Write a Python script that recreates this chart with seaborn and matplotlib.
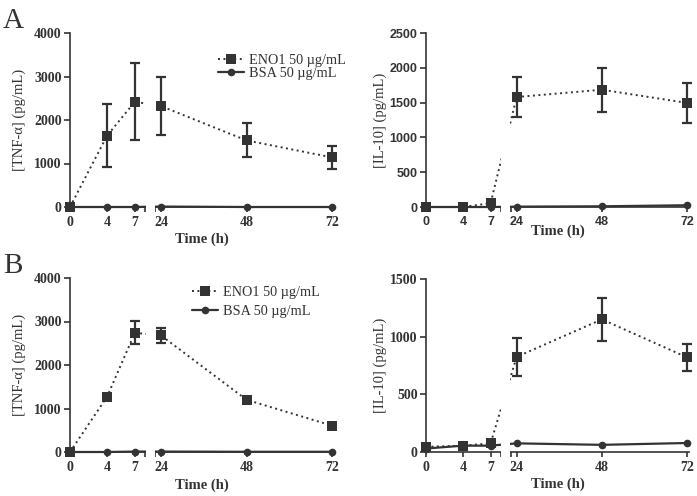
import numpy as np
import matplotlib
matplotlib.use("Agg")
import matplotlib.pyplot as plt
import seaborn as sns

# time points (h)
times = [0, 4, 7, 24, 48, 72]
tick_labels = ["0", "4", "7", "24", "48", "72"]

# A: TNF-alpha (pg/mL)
a_tnf_eno1 = [0, 1640, 2420, 2320, 1530, 1140]
a_tnf_eno1_sd = [0, 730, 890, 670, 390, 265]
a_tnf_bsa = [0, 0, 0, 10, 0, 0]

# A: IL-10 (pg/mL)
a_il10_eno1 = [0, 0, 55, 1580, 1685, 1495]
a_il10_eno1_sd = [0, 0, 30, 290, 315, 285]
a_il10_bsa = [0, 0, 0, 5, 10, 25]

# B: TNF-alpha (pg/mL)
b_tnf_eno1 = [0, 1270, 2740, 2680, 1200, 605]
b_tnf_eno1_sd = [0, 0, 265, 170, 0, 0]
b_tnf_bsa = [0, 0, 10, 10, 5, 5]

# B: IL-10 (pg/mL)
b_il10_eno1 = [45, 55, 75, 825, 1150, 820]
b_il10_eno1_sd = [0, 10, 20, 165, 185, 120]
b_il10_bsa = [30, 55, 55, 75, 62, 78]

ENO1_LABEL = "ENO1 50 µg/mL"
BSA_LABEL = "BSA 50 µg/mL"
INK = "#333333"

# broken time axis: 0-8.1 h, gap, 22.4-72.5 h
B1, B2 = 8.1, 22.4
GAP = 1.1
R = 0.385


def fwd(t):
    t = np.asarray(t, dtype=float)
    return np.where(t <= B1, t,
                    np.where(t >= B2, B1 + GAP + (t - B2) * R,
                             B1 + (t - B1) / (B2 - B1) * GAP))


def inv(u):
    u = np.asarray(u, dtype=float)
    return np.where(u <= B1, u,
                    np.where(u >= B1 + GAP, B2 + (u - B1 - GAP) / R,
                             B1 + (u - B1) / GAP * (B2 - B1)))


sns.set_style("ticks")
plt.rcParams["font.family"] = "serif"
plt.rcParams["font.serif"] = ["Liberation Serif", "DejaVu Serif"]
plt.rcParams["axes.edgecolor"] = INK
plt.rcParams["axes.linewidth"] = 1.2

fig = plt.figure(figsize=(6.97, 4.96), dpi=100)
W, H = 697, 496


def make_axes(left, top, right, bottom):
    return fig.add_axes([left / W, 1 - bottom / H, (right - left) / W, (bottom - top) / H])


def draw_panel(ax, eno1, eno1_sd, bsa, ymax, ystep, ylabel, tick_font="serif"):
    sns.lineplot(x=times, y=bsa, ax=ax, color=INK, marker="o", markersize=5.5,
                 mec=INK, mew=0, lw=1.6, label=BSA_LABEL, zorder=3,
                 clip_on=False, legend=False, errorbar=None)
    sns.lineplot(x=times, y=eno1, ax=ax, color=INK, marker="s", markersize=6.5,
                 mec=INK, mew=0, lw=1.4, linestyle=(0, (1, 1.8)), label=ENO1_LABEL,
                 zorder=3.2, clip_on=False, legend=False, errorbar=None)
    ax.errorbar(times, eno1, yerr=eno1_sd, fmt="none", ecolor=INK,
                elinewidth=1.6, capsize=3.5, capthick=1.6, zorder=3.1, clip_on=False)

    ax.set_xscale("function", functions=(fwd, inv))
    ax.set_xlim(0, 72.5)
    ax.set_ylim(0, ymax)
    ax.set_xticks(times)
    ax.set_xticklabels(tick_labels)
    ax.set_xticks([B1, B2], minor=True)
    ax.set_yticks(np.arange(0, ymax + 1, ystep))

    # hide the break in the time axis
    ax.axvspan(B1 + 0.8, B2 - 0.8, ymin=-0.05, ymax=1, color="white",
               zorder=3.5, clip_on=False, lw=0)

    sns.despine(ax=ax)
    ax.tick_params(axis="both", which="both", direction="out", width=1.2,
                   color=INK, labelcolor=INK)
    ax.tick_params(axis="x", which="both", length=3.5, pad=3)
    ax.tick_params(axis="y", length=4.5, pad=1.5)

    for lab in ax.get_xticklabels() + ax.get_yticklabels():
        if tick_font == "sans":
            lab.set_fontfamily("Liberation Sans")
            lab.set_fontsize(9)
        else:
            lab.set_fontsize(10)
        lab.set_fontweight("bold")

    ax.set_xlabel("Time (h)", fontsize=10.5, fontweight="bold", color=INK)
    ax.set_ylabel(ylabel, fontsize=10.5, color=INK)


ax_a1 = make_axes(70, 33, 334, 207)
ax_a2 = make_axes(426, 33, 689, 207)
ax_b1 = make_axes(70, 278, 334, 452)
ax_b2 = make_axes(426, 279, 689, 452)

draw_panel(ax_a1, a_tnf_eno1, a_tnf_eno1_sd, a_tnf_bsa, 4000, 1000, "[TNF-α] (pg/mL)")
draw_panel(ax_a2, a_il10_eno1, a_il10_eno1_sd, a_il10_bsa, 2500, 500, "[IL-10] (pg/mL)", tick_font="sans")
draw_panel(ax_b1, b_tnf_eno1, b_tnf_eno1_sd, b_tnf_bsa, 4000, 1000, "[TNF-α] (pg/mL)")
draw_panel(ax_b2, b_il10_eno1, b_il10_eno1_sd, b_il10_bsa, 1500, 500, "[IL-10] (pg/mL)")

ax_a1.yaxis.set_label_coords(-0.165, 0.5)
ax_b1.yaxis.set_label_coords(-0.165, 0.5)
ax_a2.yaxis.set_label_coords(-0.15, 0.5)
ax_b2.yaxis.set_label_coords(-0.15, 0.5)
ax_a1.xaxis.set_label_coords(0.5, -0.145)
ax_a2.xaxis.set_label_coords(0.5, -0.10)
ax_b1.xaxis.set_label_coords(0.5, -0.15)
ax_b2.xaxis.set_label_coords(0.5, -0.15)

for ax, x0, y0, spacing in [(ax_a1, 218, 54, 0.0), (ax_b1, 192, 286, 0.45)]:
    handles, labels = ax.get_legend_handles_labels()
    order = [labels.index(ENO1_LABEL), labels.index(BSA_LABEL)]
    leg = ax.legend([handles[i] for i in order], [labels[i] for i in order],
                    loc="upper left", bbox_to_anchor=(x0 / W, 1 - y0 / H),
                    bbox_transform=fig.transFigure, frameon=False, fontsize=10.3,
                    handlelength=1.8, handletextpad=0.35, borderpad=0,
                    borderaxespad=0, labelspacing=spacing)
    for t in leg.get_texts():
        t.set_color(INK)

fig.text(3 / W, 1 - 28 / H, "A", fontsize=21, color=INK, va="baseline")
fig.text(3 / W, 1 - 273 / H, "B", fontsize=21, color=INK, va="baseline")

fig.savefig("out.png", dpi=100)
